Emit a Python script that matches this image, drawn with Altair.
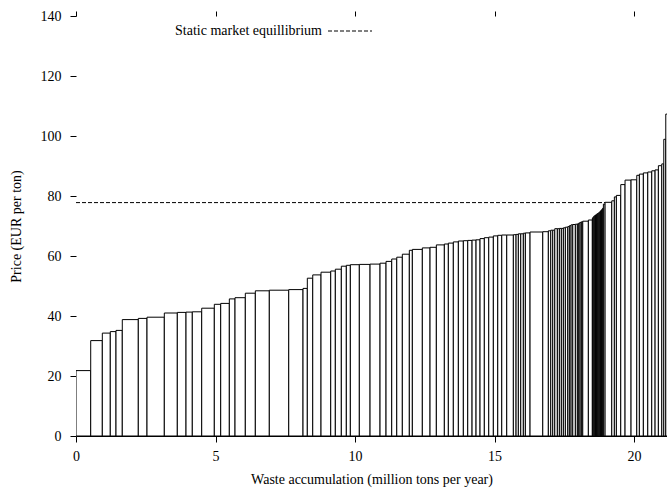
import altair as alt
import pandas as pd

# Cumulative waste accumulation at the right edge of each plant's bar (million tons per year)
supply_end = [
    0.527, 0.943, 1.229, 1.434, 1.659, 2.233, 2.545, 3.165, 3.631, 3.943,
    4.168, 4.505, 4.957, 5.186, 5.495, 5.699, 6.068, 6.427, 6.928, 7.624,
    8.136, 8.290, 8.484, 8.781, 9.129, 9.294, 9.509, 9.688, 9.832, 10.154,
    10.538, 10.896, 11.111, 11.315, 11.495, 11.695, 11.946, 12.054, 12.412, 12.688,
    12.914, 13.201, 13.344, 13.523, 13.703, 13.882, 14.039, 14.194, 14.337, 14.480,
    14.634, 14.792, 14.957, 15.115, 15.258, 15.437, 15.674, 15.771, 15.853, 15.939,
    16.032, 16.104, 16.272, 16.728, 16.928, 17.014, 17.086, 17.158, 17.251, 17.323,
    17.394, 17.466, 17.538, 17.624, 17.681, 17.742, 17.803, 17.896, 17.968, 18.018,
    18.065, 18.111, 18.161, 18.362, 18.505,
    18.53, 18.56, 18.59, 18.62, 18.65, 18.68, 18.71, 18.74, 18.77, 18.80,
    18.83, 18.86, 18.88, 18.900,
    18.961, 19.201, 19.294, 19.366, 19.523, 19.677, 19.892, 20.097, 20.190, 20.333,
    20.491, 20.634, 20.753, 20.871, 20.993, 21.065, 21.136, 21.30,
]

# Price of each plant (EUR per ton)
price = [
    21.8, 31.8, 34.3, 34.8, 35.2, 38.8, 39.2, 39.6, 41.0, 41.2,
    41.3, 41.4, 42.6, 43.9, 44.2, 45.7, 46.1, 47.6, 48.4, 48.6,
    48.8, 49.2, 52.6, 53.7, 54.6, 55.0, 55.6, 56.6, 56.9, 57.1,
    57.2, 57.3, 57.6, 58.2, 59.0, 59.6, 60.6, 61.9, 62.2, 62.7,
    62.9, 63.7, 64.0, 64.3, 64.7, 65.0, 65.1, 65.2, 65.3, 65.4,
    65.8, 66.1, 66.3, 66.7, 66.9, 67.0, 67.0, 67.1, 67.2, 67.4,
    67.4, 67.6, 67.7, 68.0, 68.1, 68.4, 68.6, 68.6, 69.1, 69.1,
    69.2, 69.2, 69.4, 69.6, 69.8, 70.1, 70.4, 70.5, 70.6, 70.7,
    71.0, 71.2, 71.4, 71.6, 72.0,
    72.6, 73.0, 73.3, 73.5, 73.7, 73.9, 74.1, 74.3, 74.5, 74.8,
    75.1, 75.4, 75.7, 76.0,
    77.3, 77.9, 78.4, 79.7, 80.2, 83.8, 85.3, 85.4, 86.9, 87.3,
    87.7, 88.0, 88.4, 88.7, 90.1, 90.7, 98.9, 107.3,
]

x_ticks = [0, 5, 10, 15, 20]
y_ticks = [0, 20, 40, 60, 80, 100, 120, 140]

equilibrium_price = 77.8
equilibrium_quantity = 18.96
legend_label = "Static market equillibrium"

X_MAX = 21.18
FONT = "Liberation Serif"
FS = 14

supply_start = [0.0] + supply_end[:-1]
df = pd.DataFrame({"x0": supply_start, "x1": supply_end, "price": price})

x_scale = alt.Scale(domain=[0, X_MAX], nice=False, zero=False)
y_scale = alt.Scale(domain=[0, 140], nice=False)

y_axis = alt.Axis(
    values=y_ticks, title="Price (EUR per ton)",
    domain=False, tickSize=6, tickColor="black", labelPadding=9,
    titlePadding=17, labelFlush=False,
)

bars = alt.Chart(df).mark_rect(
    fill="white", stroke="black", strokeWidth=1, clip=True
).encode(
    x=alt.X("x0:Q", scale=x_scale, axis=alt.Axis(
        values=x_ticks, title="Waste accumulation (million tons per year)",
        domain=True, domainColor="black", domainWidth=1,
        tickSize=6, tickColor="black", labelPadding=7, titlePadding=9,
        labelFlush=False,
    )),
    x2="x1:Q",
    y=alt.Y("price:Q", scale=y_scale, axis=y_axis),
    y2=alt.datum(0),
)

top_ticks = alt.Chart(pd.DataFrame({"t": x_ticks})).mark_point(opacity=0).encode(
    x=alt.X("t:Q", scale=x_scale, axis=alt.Axis(
        orient="top", values=x_ticks, labels=False, domain=False, title=None,
        tickSize=5, tickColor="black",
    )),
)

eq_df = pd.DataFrame({"q0": [0.0], "q1": [equilibrium_quantity], "p": [equilibrium_price]})
eq_line = alt.Chart(eq_df).mark_rule(
    color="black", strokeWidth=1, strokeDash=[4, 2]
).encode(
    x=alt.X("q0:Q", scale=x_scale, axis=None), x2="q1:Q",
    y=alt.Y("p:Q", scale=y_scale, axis=y_axis),
)

key_df = pd.DataFrame({"label": [legend_label]})
key_text = alt.Chart(key_df).mark_text(
    align="right", baseline="middle", font=FONT, fontSize=FS, color="black"
).encode(text="label:N", x=alt.value(246), y=alt.value(15))
key_line = alt.Chart(key_df).mark_rule(
    color="black", strokeWidth=1, strokeDash=[4, 2]
).encode(x=alt.value(252), x2=alt.value(296), y=alt.value(15))

chart = alt.layer(bars, top_ticks, eq_line, key_text, key_line).resolve_axis(
    x="independent"
).properties(
    width=591, height=420,
    autosize=alt.AutoSizeParams(type="none"),
    padding={"left": 76, "top": 16, "right": 0, "bottom": 54},
    background="white",
).configure_view(stroke=None).configure_axis(
    grid=False,
    labelFont=FONT, labelFontSize=FS, labelColor="black",
    titleFont=FONT, titleFontSize=FS, titleColor="black", titleFontWeight="normal",
)

chart.save("out.html", embed_options={"renderer": "svg", "actions": False})
